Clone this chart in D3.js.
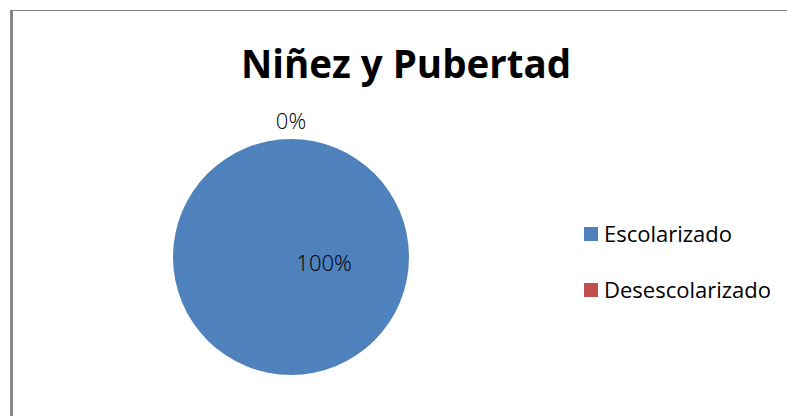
<!DOCTYPE html>
<html lang="es">
<head>
<meta charset="UTF-8">
<script src="https://cdn.jsdelivr.net/npm/d3@7"></script>
<style>
  body { margin: 0; background: #fff; }
  svg { display: block; }
</style>
</head>
<body>
<svg width="787" height="416"></svg>
<script>
// data
const categories = ["Escolarizado", "Desescolarizado"];
const values = [100, 0];
const colors = ["#4F81BD", "#C0504D"];
const title = "Niñez y Pubertad";

const width = 787, height = 416;
const svg = d3.select("svg");

// frame (only top + left edges are visible)
svg.append("line").attr("x1", 10).attr("x2", width).attr("y1", 10.5).attr("y2", 10.5)
    .attr("stroke", "#868686").attr("stroke-width", 1);
svg.append("line").attr("x1", 11.5).attr("x2", 11.5).attr("y1", 10).attr("y2", height)
    .attr("stroke", "#868686").attr("stroke-width", 3);

svg.append("text")
    .attr("x", 406).attr("y", 78)
    .attr("text-anchor", "middle")
    .style("font", "bold 38.5px 'Open Sans', sans-serif")
    .text(title);

const cx = 291, cy = 257, r = 118;
const g = svg.append("g").attr("transform", `translate(${cx},${cy})`);

const pie = d3.pie().sort(null).value(d => d.value);
const data = categories.map((c, i) => ({name: c, value: values[i], color: colors[i]}));
const arcs = pie(data);
const total = d3.sum(values);

const arc = d3.arc().innerRadius(0).outerRadius(r);
g.selectAll("path").data(arcs).join("path")
    .attr("d", arc)
    .attr("fill", d => d.data.color);

// labels: big slice inside, empty slice outside the rim
const outer = d3.arc().innerRadius(r + 18).outerRadius(r + 18);
g.selectAll("text.lbl").data(arcs).join("text")
    .attr("class", "lbl")
    .attr("transform", d => {
      if (d.data.value === 0) return `translate(${outer.centroid(d)})`;
      return `translate(${r * 0.28},${6})`;
    })
    .attr("text-anchor", "middle")
    .attr("dy", "0.35em")
    .style("font", "22px 'Open Sans', sans-serif")
    .style("font-weight", 300)
    .attr("fill", "#000")
    .text(d => Math.round(d.data.value / total * 100) + "%");

// legend
const legend = svg.append("g").attr("transform", "translate(584,227)");
const item = legend.selectAll("g").data(data).join("g")
    .attr("transform", (d, i) => `translate(0,${i * 56})`);
item.append("rect").attr("width", 14).attr("height", 14).attr("fill", d => d.color);
item.append("text")
    .attr("x", 20).attr("y", 15)
    .style("font", "22px 'Open Sans', sans-serif")
    .text(d => d.name);
</script>
</body>
</html>
